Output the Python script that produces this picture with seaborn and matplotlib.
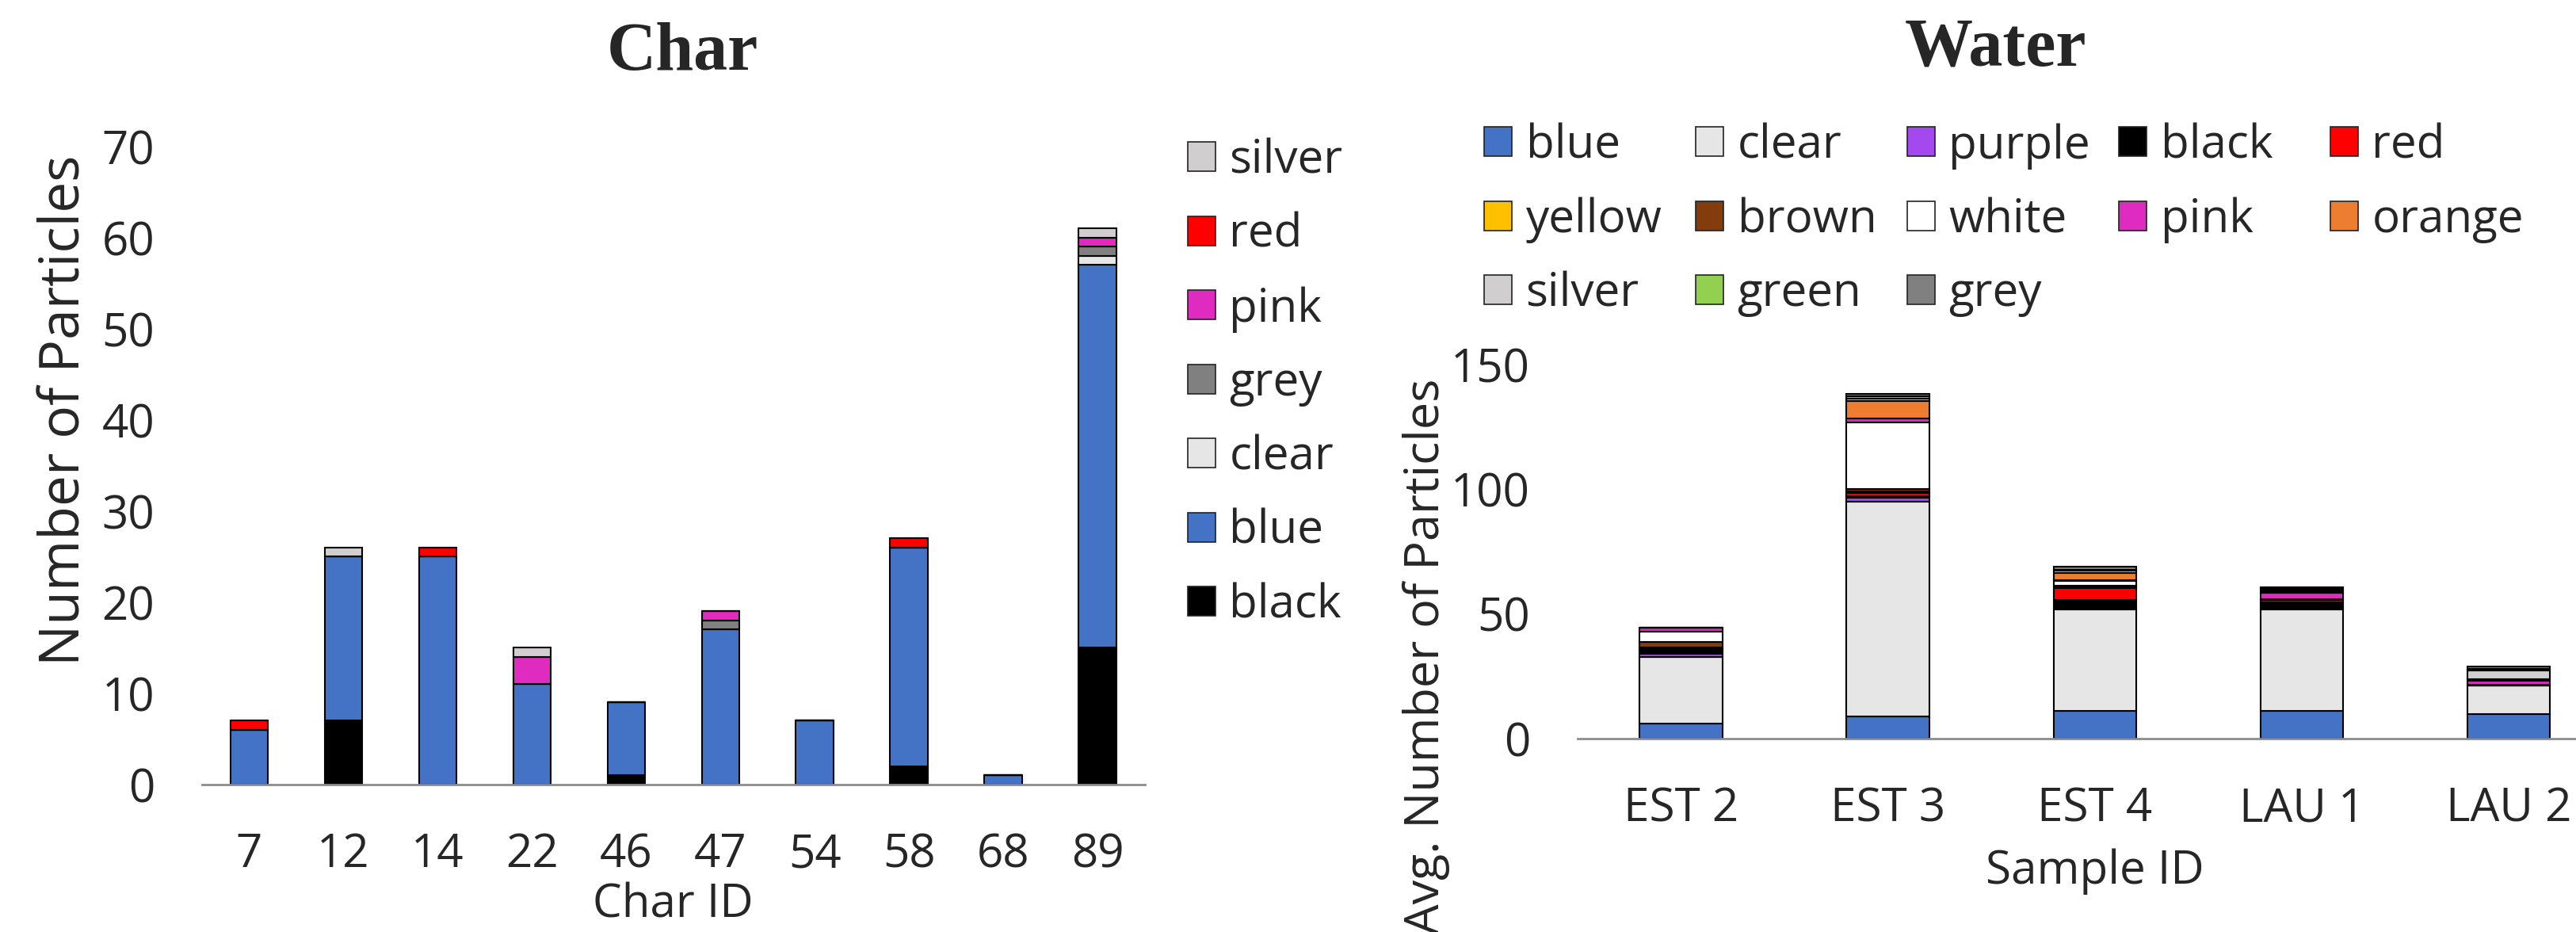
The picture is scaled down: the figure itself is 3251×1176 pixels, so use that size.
import matplotlib
matplotlib.use("Agg")
import matplotlib.pyplot as plt
from matplotlib.patches import Patch
import pandas as pd
import seaborn as sns

# ---- Char data (bottom -> top stacking: black, blue, clear, grey, pink, red, silver)
char_ids = ['7', '12', '14', '22', '46', '47', '54', '58', '68', '89']
char_black = [0, 7, 0, 0, 1, 0, 0, 2, 0, 15]
char_blue = [6, 18, 25, 11, 8, 17, 7, 24, 1, 42]
char_clear = [0, 0, 0, 0, 0, 0, 0, 0, 0, 1]
char_grey = [0, 0, 0, 0, 0, 1, 0, 0, 0, 1]
char_pink = [0, 0, 0, 3, 0, 1, 0, 0, 0, 1]
char_red = [1, 0, 1, 0, 0, 0, 0, 1, 0, 0]
char_silver = [0, 1, 0, 1, 0, 0, 0, 0, 0, 1]

# ---- Water data (average counts, bottom -> top in legend order)
sample_ids = ['EST 2', 'EST 3', 'EST 4', 'LAU 1', 'LAU 2']
w_blue = [6, 9, 11, 11, 10]
w_clear = [26.7, 85.9, 40.7, 40.9, 11.2]
w_purple = [1.2, 1.6, 0.8, 0.6, 0.2]
w_black = [1.5, 0.7, 3.1, 1.2, 0.3]
w_red = [0.5, 1.4, 4.8, 0.7, 0]
w_yellow = [0.7, 0.4, 0.4, 0.2, 0]
w_brown = [2.3, 1.0, 0.6, 0.9, 0]
w_white = [3.9, 26.7, 1.8, 0.3, 0]
w_pink = [1.8, 1.8, 0.3, 2.6, 1.6]
w_orange = [0, 7.0, 3.0, 0.6, 0.4]
w_silver = [0, 0.8, 0.8, 0.7, 3.6]
w_green = [0, 0.9, 0.5, 0.3, 0.8]
w_grey = [0, 0.9, 1.0, 0.8, 0.8]

colors = {
    'blue': '#4472C4', 'clear': '#E7E6E6', 'purple': '#A349EF', 'black': '#000000',
    'red': '#FF0000', 'yellow': '#FFC000', 'brown': '#843C0C', 'white': '#FFFFFF',
    'pink': '#E02BC0', 'orange': '#ED7D31', 'silver': '#D0CECE', 'green': '#92D050',
    'grey': '#808080',
}

char_series = {'black': char_black, 'blue': char_blue, 'clear': char_clear, 'grey': char_grey,
               'pink': char_pink, 'red': char_red, 'silver': char_silver}
water_series = {'blue': w_blue, 'clear': w_clear, 'purple': w_purple, 'black': w_black,
                'red': w_red, 'yellow': w_yellow, 'brown': w_brown, 'white': w_white,
                'pink': w_pink, 'orange': w_orange, 'silver': w_silver, 'green': w_green,
                'grey': w_grey}


def long_table(ids, series):
    rows = []
    for color, vals in series.items():
        for i, v in zip(ids, vals):
            rows.append({'id': i, 'color': color, 'count': v})
    return pd.DataFrame(rows)


char_df = long_table(char_ids, char_series)
water_df = long_table(sample_ids, water_series)

sns.set_style('white')
plt.rcParams['font.family'] = ['Open Sans', 'DejaVu Sans']

fig = plt.figure(figsize=(32.51, 11.76), dpi=100)
ax1 = fig.add_axes([0.0784, 0.1582, 0.3660, 0.6845])
ax2 = fig.add_axes([0.6124, 0.2075, 0.4017, 0.4014])

# seaborn stacks the last hue level at the bottom
char_order = list(char_series.keys())[::-1]
water_order = list(water_series.keys())[::-1]

sns.histplot(data=char_df, x='id', hue='color', weights='count', multiple='stack',
             hue_order=char_order, palette=colors, discrete=True, shrink=0.4,
             alpha=1, edgecolor='black', linewidth=1.5, legend=False, ax=ax1)
sns.histplot(data=water_df, x='id', hue='color', weights='count', multiple='stack',
             hue_order=water_order, palette=colors, discrete=True, shrink=0.4,
             alpha=1, edgecolor='black', linewidth=1.5, legend=False, ax=ax2)

ax1.set_xlim(-0.5, 9.5)
ax1.set_ylim(0, 70)
ax1.set_yticks(range(0, 71, 10))
ax2.set_xlim(-0.5, 4.5)
ax2.set_ylim(0, 150)
ax2.set_yticks([0, 50, 100, 150])

for ax in (ax1, ax2):
    for s in ('top', 'right', 'left'):
        ax.spines[s].set_visible(False)
    ax.spines['bottom'].set_color('#8c8c8c')
    ax.spines['bottom'].set_linewidth(2)
    ax.tick_params(axis='both', length=0, pad=43, labelsize=42)
    ax.grid(False)

ax1.set_xlabel('Char ID', fontsize=42, va='center')
ax1.xaxis.set_label_coords(0.5, -0.189)
ax1.set_ylabel('Number of Particles', fontsize=50, va='center')
ax1.yaxis.set_label_coords(-0.1445, 0.586)

ax2.set_xlabel('Sample ID', fontsize=42, va='center')
ax2.xaxis.set_label_coords(0.5, -0.356)
ax2.set_ylabel('Avg. Number of Particles', fontsize=44, va='center')
ax2.yaxis.set_label_coords(-0.146, 0.22)

title_font = dict(family='Liberation Serif', weight='bold', fontsize=62, ha='center', va='center')
fig.text(0.2651, 0.943, 'Char', **title_font)
fig.text(0.7748, 0.947, 'Water', **title_font)

leg_kw = dict(loc='upper left', frameon=False, fontsize=42, handlelength=0.6,
              handleheight=0.6, handletextpad=0.3, labelspacing=0.6,
              borderpad=0, borderaxespad=0)

char_handles = [Patch(facecolor=colors[c], edgecolor='#222222', linewidth=1.2) for c in char_order]
fig.legend(char_handles, char_order, bbox_to_anchor=(1499 / 3251, 1 - 174 / 1176), **leg_kw)

water_names = list(water_series.keys())
for col in range(5):
    names = water_names[col::5]
    handles = [Patch(facecolor=colors[c], edgecolor='#222222', linewidth=1.2) for c in names]
    fig.legend(handles, names, bbox_to_anchor=((1873 + 267 * col) / 3251, 1 - 155 / 1176), **leg_kw)

fig.savefig('out.png', dpi=100)
